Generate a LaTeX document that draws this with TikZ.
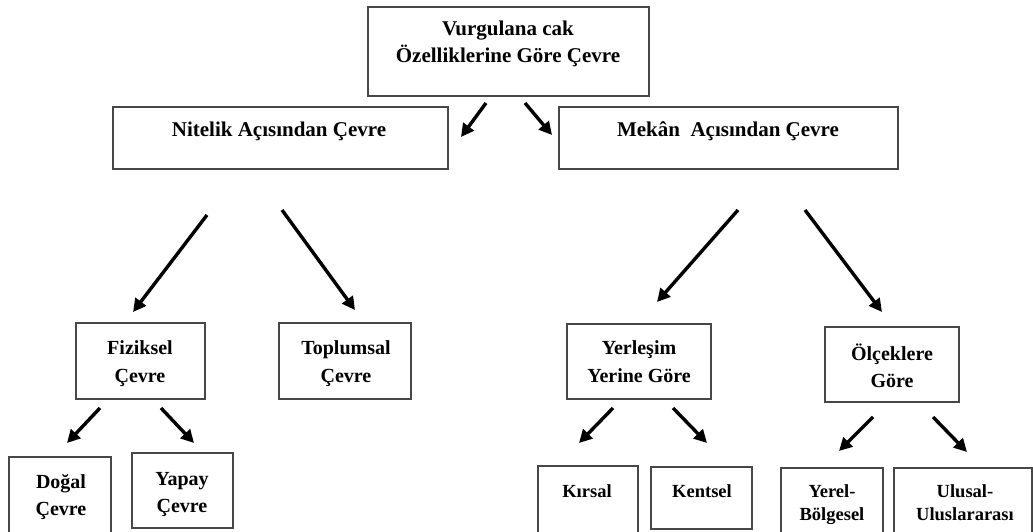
\documentclass[tikz,border=0pt]{standalone}
\usepackage{fontspec}
\setmainfont{Liberation Serif}
\usetikzlibrary{arrows.meta}
\begin{document}
\begin{tikzpicture}[x=1pt,y=-1pt,
  box/.style={draw=black!72, line width=1.6pt, fill=white},
  lbl/.style={anchor=base, align=center, inner sep=0pt, font=\bfseries},
  big/.style={lbl, font=\bfseries\fontsize{21}{27}\selectfont},
  mid/.style={lbl, font=\bfseries\fontsize{20}{28}\selectfont},
  small/.style={lbl, font=\bfseries\fontsize{18.5}{23}\selectfont},
  arr/.style={line width=3.4pt, -{Triangle[length=13pt,width=13pt]}}]
\useasboundingbox (0,0) rectangle (1033,532);
\clip (0,0) rectangle (1033,532);

% boxes
\draw[box] (368,7) rectangle (649,96) node[midway] (topB) {};
\draw[box] (113,107) rectangle (448,169) node[midway] (nitB) {};
\draw[box] (559,107) rectangle (898,169) node[midway] (mekB) {};
\draw[box] (76,323) rectangle (205,399) node[midway] (fizB) {};
\draw[box] (279,323) rectangle (411,399) node[midway] (topluB) {};
\draw[box] (567,324) rectangle (711,399) node[midway] (yerB) {};
\draw[box] (825,327) rectangle (959,402) node[midway] (olcB) {};
\draw[box] (9,457) rectangle (111,540) node[midway] (dogB) {};
\draw[box] (132,453) rectangle (233,528) node[midway] (yapB) {};
\draw[box] (538,466) rectangle (638,540) node[midway] (kirB) {};
\draw[box] (651,467) rectangle (752,529) node[midway] (kenB) {};
\draw[box] (781,468) rectangle (883,540) node[midway] (ybB) {};
\draw[box] (894,468) rectangle (1032,540) node[midway] (ulB) {};

% labels (anchored at the baseline of the last line)
\node[big] (topT) at (508,63) {Vurgulana cak\\Özelliklerine Göre Çevre};
\node[big] (nitT) at (279,137) {Nitelik Açısından Çevre};
\node[big] (mekT) at (728,137) {Mekân\ \ Açısından Çevre};
\node[mid] (fizT) at (140,382) {Fiziksel\\Çevre};
\node[mid] (topluT) at (346,382) {Toplumsal\\Çevre};
\node[mid] (yerT) at (639,382) {Yerleşim\\Yerine Göre};
\node[mid, font=\bfseries\fontsize{20}{27}\selectfont] (olcT) at (892,387) {Ölçeklere\\Göre};
\node[mid, font=\bfseries\fontsize{20}{27}\selectfont] (dogT) at (61,515) {Doğal\\Çevre};
\node[mid, font=\bfseries\fontsize{20}{27}\selectfont] (yapT) at (182,512) {Yapay\\Çevre};
\node[small] (kirT) at (587,497) {Kırsal};
\node[small] (kenT) at (702,497) {Kentsel};
\node[small] (ybT) at (832,520) {Yerel-\\Bölgesel};
\node[small] (ulT) at (965,520) {Ulusal-\\Uluslararası};

% arrow ends
\coordinate (a1s) at (486,103);  \coordinate (a1e) at (461,137);
\coordinate (a2s) at (525,103);  \coordinate (a2e) at (552,135);
\coordinate (a3s) at (207,215);  \coordinate (a3e) at (133,312);
\coordinate (a4s) at (282,210);  \coordinate (a4e) at (355,310);
\coordinate (a5s) at (738,210);  \coordinate (a5e) at (657,302);
\coordinate (a6s) at (805,210);  \coordinate (a6e) at (882,312);
\coordinate (a7s) at (100,408);  \coordinate (a7e) at (67,443);
\coordinate (a8s) at (161,408);  \coordinate (a8e) at (194,443);
\coordinate (a9s) at (613,408);  \coordinate (a9e) at (579,443);
\coordinate (a10s) at (673,408); \coordinate (a10e) at (707,443);
\coordinate (a11s) at (873,417); \coordinate (a11e) at (839,451);
\coordinate (a12s) at (933,417); \coordinate (a12e) at (967,452);

\foreach \i in {1,...,12} \draw[arr] (a\i s) -- (a\i e);
\end{tikzpicture}
\end{document}
